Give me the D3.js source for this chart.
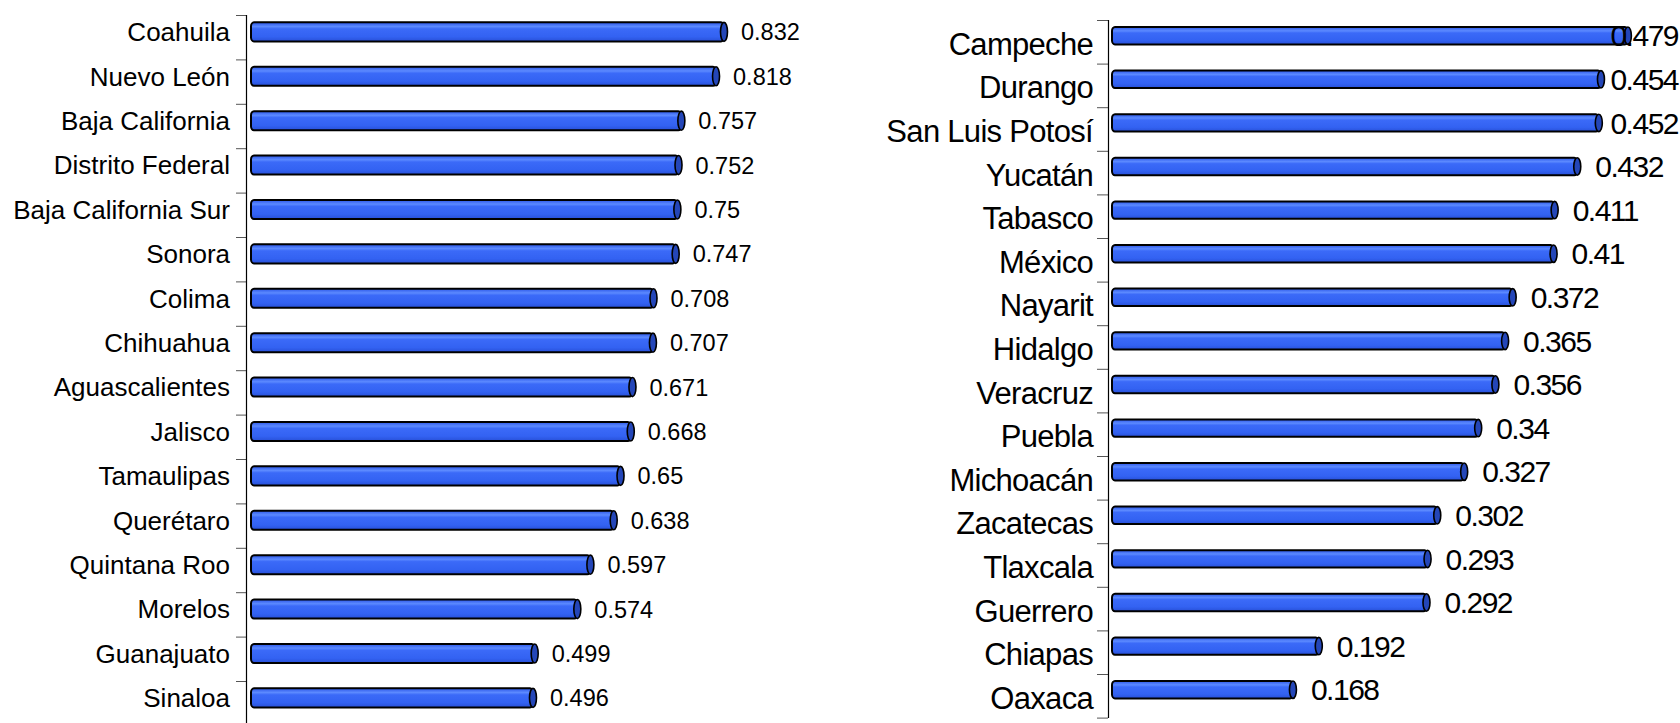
<!DOCTYPE html>
<html>
<head>
<meta charset="utf-8">
<script src="https://cdn.jsdelivr.net/npm/d3@7"></script>
<style>
  html, body { margin: 0; padding: 0; background: #fff; }
  svg { display: block; }
</style>
</head>
<body>
<div id="chart"></div>
<script>
// values
var leftStates = ["Coahuila", "Nuevo León", "Baja California", "Distrito Federal", "Baja California Sur",
  "Sonora", "Colima", "Chihuahua", "Aguascalientes", "Jalisco", "Tamaulipas", "Querétaro",
  "Quintana Roo", "Morelos", "Guanajuato", "Sinaloa"];
var leftValues = [0.832, 0.818, 0.757, 0.752, 0.75, 0.747, 0.708, 0.707, 0.671, 0.668, 0.65, 0.638,
  0.597, 0.574, 0.499, 0.496];

var rightStates = ["Campeche", "Durango", "San Luis Potosí", "Yucatán", "Tabasco", "México", "Nayarit",
  "Hidalgo", "Veracruz", "Puebla", "Michoacán", "Zacatecas", "Tlaxcala", "Guerrero", "Chiapas", "Oaxaca"];
var rightValues = [0.479, 0.454, 0.452, 0.432, 0.411, 0.41, 0.372, 0.365, 0.356, 0.34, 0.327, 0.302,
  0.293, 0.292, 0.192, 0.168];

var W = 1680, H = 723;

var svg = d3.select("#chart").append("svg")
  .attr("width", W).attr("height", H);

// cylinder shading
var defs = svg.append("defs");
var grad = defs.append("linearGradient")
  .attr("id", "cyl").attr("x1", 0).attr("y1", 0).attr("x2", 0).attr("y2", 1);
grad.append("stop").attr("offset", "0%").attr("stop-color", "#2b56e8");
grad.append("stop").attr("offset", "22%").attr("stop-color", "#5c8aff");
grad.append("stop").attr("offset", "34%").attr("stop-color", "#3b6af8");
grad.append("stop").attr("offset", "75%").attr("stop-color", "#3362f2");
grad.append("stop").attr("offset", "100%").attr("stop-color", "#2850d8");

function drawPanel(cfg) {
  var n = cfg.states.length;
  var g = svg.append("g");

  var x = d3.scaleLinear().domain([0, 1]).range([cfg.x0, cfg.x0 + cfg.unit]);
  var yIdx = d3.scaleLinear().domain([0, n]).range([cfg.top, cfg.top + n * cfg.step]);
  var y = d3.scaleBand().domain(cfg.states).range([cfg.top, cfg.top + n * cfg.step]).padding(0);

  // axis with ticks between categories
  var axis = d3.axisLeft(yIdx).tickValues(d3.range(n + 1)).tickSize(cfg.tick).tickFormat("");
  var ax = g.append("g").attr("transform", "translate(" + cfg.axisX + ",0)").call(axis);
  ax.select(".domain").remove();
  ax.selectAll(".tick line").attr("stroke", "#555").attr("stroke-width", 1);
  g.append("line")
    .attr("x1", cfg.axisX + 0.5).attr("x2", cfg.axisX + 0.5)
    .attr("y1", cfg.top).attr("y2", cfg.axisEnd)
    .attr("stroke", "#000").attr("stroke-width", 1.2);

  var bh = cfg.step * cfg.thick;
  function cy(d) { return y(d) + cfg.step * cfg.center; }

  var rows = cfg.states.map(function(s, i) { return {s: s, v: cfg.values[i]}; });

  var bar = g.selectAll(".bar").data(rows).enter().append("g").attr("class", "bar");

  bar.append("rect")
    .attr("x", x(0))
    .attr("y", function(d) { return cy(d.s) - bh / 2; })
    .attr("width", function(d) { return x(d.v) - x(0); })
    .attr("height", bh)
    .attr("rx", 3).attr("ry", 4)
    .attr("fill", "url(#cyl)")
    .attr("stroke", "#000").attr("stroke-width", 2);

  bar.append("ellipse")
    .attr("cx", function(d) { return x(d.v); })
    .attr("cy", function(d) { return cy(d.s); })
    .attr("rx", 3.5).attr("ry", bh / 2)
    .attr("fill", "#2446b8")
    .attr("stroke", "#000").attr("stroke-width", 1.6);

  bar.append("text")
    .attr("y", function(d) { return cy(d.s) + cfg.valDy; })
    .attr("dy", "0.36em")
    .attr("font-family", "'Liberation Sans', Arial, sans-serif")
    .attr("font-size", cfg.valSize)
    .attr("letter-spacing", cfg.valSpacing)
    .attr("fill", "#000")
    .text(function(d) { return d.v; })
    .attr("x", function(d) {
      // keep the label inside the picture, like the original does
      var w = this.getComputedTextLength();
      return Math.min(x(d.v) + cfg.gap, W - 2 - w);
    });

  g.selectAll(".lab").data(rows).enter().append("text")
    .attr("class", "lab")
    .attr("x", cfg.labelX)
    .attr("y", function(d) { return cy(d.s) + cfg.labDy; })
    .attr("dy", "0.36em")
    .attr("text-anchor", "end")
    .attr("font-family", "'Liberation Sans', Arial, sans-serif")
    .attr("font-size", cfg.labSize)
    .attr("letter-spacing", cfg.labSpacing)
    .attr("fill", "#000")
    .text(function(d) { return d.s; });
}

drawPanel({
  states: leftStates, values: leftValues,
  x0: 251, unit: 568.5, top: 15, step: 44.4, center: 0.38, thick: 0.43,
  axisX: 246, axisEnd: 723, tick: 10, labelX: 230, gap: 17,
  labSize: 26, valSize: 23.5, labSpacing: 0, valSpacing: 0, labDy: 0, valDy: 0
});

drawPanel({
  states: rightStates, values: rightValues,
  x0: 1112, unit: 1077, top: 20, step: 43.6, center: 0.36, thick: 0.4,
  axisX: 1108, axisEnd: 718, tick: 11, labelX: 1093, gap: 18,
  labSize: 31, valSize: 30, labSpacing: -0.7, valSpacing: -1.5, labDy: 8, valDy: 0
});
</script>
</body>
</html>
